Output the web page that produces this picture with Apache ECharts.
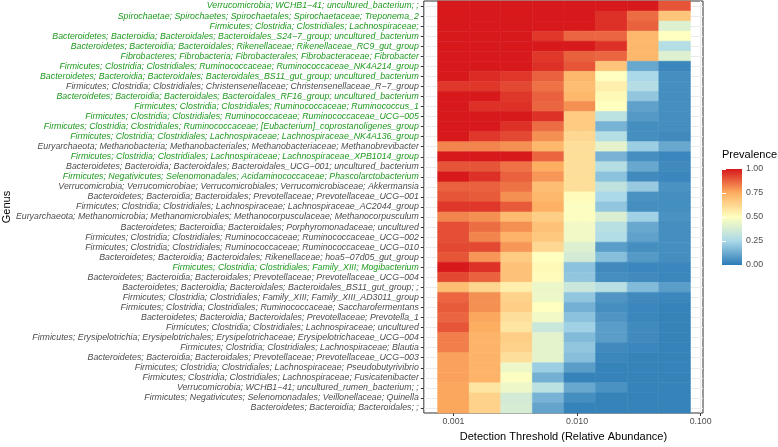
<!DOCTYPE html>
<html><head><meta charset="utf-8">
<script src="https://cdn.jsdelivr.net/npm/echarts@6/dist/echarts.min.js"></script>
<style>html,body{margin:0;padding:0;background:#fff}#c{width:778px;height:447px}</style>
</head><body><div id="c"></div>
<script>
const genera = [
"Verrucomicrobia; WCHB1−41; uncultured_bacterium; ;",
"Spirochaetae; Spirochaetes; Spirochaetales; Spirochaetaceae; Treponema_2",
"Firmicutes; Clostridia; Clostridiales; Lachnospiraceae;",
"Bacteroidetes; Bacteroidia; Bacteroidales; Bacteroidales_S24−7_group; uncultured_bacterium",
"Bacteroidetes; Bacteroidia; Bacteroidales; Rikenellaceae; Rikenellaceae_RC9_gut_group",
"Fibrobacteres; Fibrobacteria; Fibrobacterales; Fibrobacteraceae; Fibrobacter",
"Firmicutes; Clostridia; Clostridiales; Ruminococcaceae; Ruminococcaceae_NK4A214_group",
"Bacteroidetes; Bacteroidia; Bacteroidales; Bacteroidales_BS11_gut_group; uncultured_bacterium",
"Firmicutes; Clostridia; Clostridiales; Christensenellaceae; Christensenellaceae_R−7_group",
"Bacteroidetes; Bacteroidia; Bacteroidales; Bacteroidales_RF16_group; uncultured_bacterium",
"Firmicutes; Clostridia; Clostridiales; Ruminococcaceae; Ruminococcus_1",
"Firmicutes; Clostridia; Clostridiales; Ruminococcaceae; Ruminococcaceae_UCG−005",
"Firmicutes; Clostridia; Clostridiales; Ruminococcaceae; [Eubacterium]_coprostanoligenes_group",
"Firmicutes; Clostridia; Clostridiales; Lachnospiraceae; Lachnospiraceae_NK4A136_group",
"Euryarchaeota; Methanobacteria; Methanobacteriales; Methanobacteriaceae; Methanobrevibacter",
"Firmicutes; Clostridia; Clostridiales; Lachnospiraceae; Lachnospiraceae_XPB1014_group",
"Bacteroidetes; Bacteroidia; Bacteroidales; Bacteroidales_UCG−001; uncultured_bacterium",
"Firmicutes; Negativicutes; Selenomonadales; Acidaminococcaceae; Phascolarctobacterium",
"Verrucomicrobia; Verrucomicrobiae; Verrucomicrobiales; Verrucomicrobiaceae; Akkermansia",
"Bacteroidetes; Bacteroidia; Bacteroidales; Prevotellaceae; Prevotellaceae_UCG−001",
"Firmicutes; Clostridia; Clostridiales; Lachnospiraceae; Lachnospiraceae_AC2044_group",
"Euryarchaeota; Methanomicrobia; Methanomicrobiales; Methanocorpusculaceae; Methanocorpusculum",
"Bacteroidetes; Bacteroidia; Bacteroidales; Porphyromonadaceae; uncultured",
"Firmicutes; Clostridia; Clostridiales; Ruminococcaceae; Ruminococcaceae_UCG−002",
"Firmicutes; Clostridia; Clostridiales; Ruminococcaceae; Ruminococcaceae_UCG−010",
"Bacteroidetes; Bacteroidia; Bacteroidales; Rikenellaceae; hoa5−07d05_gut_group",
"Firmicutes; Clostridia; Clostridiales; Family_XIII; Mogibacterium",
"Bacteroidetes; Bacteroidia; Bacteroidales; Prevotellaceae; Prevotellaceae_UCG−004",
"Bacteroidetes; Bacteroidia; Bacteroidales; Bacteroidales_BS11_gut_group; ;",
"Firmicutes; Clostridia; Clostridiales; Family_XIII; Family_XIII_AD3011_group",
"Firmicutes; Clostridia; Clostridiales; Ruminococcaceae; Saccharofermentans",
"Bacteroidetes; Bacteroidia; Bacteroidales; Prevotellaceae; Prevotella_1",
"Firmicutes; Clostridia; Clostridiales; Lachnospiraceae; uncultured",
"Firmicutes; Erysipelotrichia; Erysipelotrichales; Erysipelotrichaceae; Erysipelotrichaceae_UCG−004",
"Firmicutes; Clostridia; Clostridiales; Lachnospiraceae; Blautia",
"Bacteroidetes; Bacteroidia; Bacteroidales; Prevotellaceae; Prevotellaceae_UCG−003",
"Firmicutes; Clostridia; Clostridiales; Lachnospiraceae; Pseudobutyrivibrio",
"Firmicutes; Clostridia; Clostridiales; Lachnospiraceae; Fusicatenibacter",
"Verrucomicrobia; WCHB1−41; uncultured_rumen_bacterium; ;",
"Firmicutes; Negativicutes; Selenomonadales; Veillonellaceae; Quinella",
"Bacteroidetes; Bacteroidia; Bacteroidales; ;"
];
// rows drawn in green
const highlightedRows = [0,1,2,3,4,5,6,7,9,10,11,12,13,15,17,26];
const thresholds = [0.00100, 0.00180, 0.00324, 0.00584, 0.01053, 0.01896, 0.03418, 0.06159];
const prevalence = [
[1,1,1,1,1,1,1,0.9],
[1,1,1,1,1,0.96,0.86,0.68],
[1,1,1,1,1,0.96,0.88,0.4],
[1,1,1,0.95,0.87,0.87,0.72,0.5],
[1,1,1,1,1,0.96,0.72,0.28],
[1,1,1,0.95,0.88,0.87,0.72,0.4],
[1,1,1,0.96,0.9,0.68,0.12,0.03],
[1,0.97,0.95,0.88,0.72,0.5,0.25,0.05],
[0.95,0.95,0.92,0.85,0.7,0.55,0.28,0.05],
[1,1,0.95,0.88,0.72,0.52,0.2,0.05],
[1,0.96,0.96,0.87,0.8,0.5,0.1,0.05],
[1,1,1,0.96,0.66,0.3,0.08,0.05],
[1,1,0.96,0.86,0.66,0.15,0.05,0.05],
[1,0.95,0.92,0.8,0.62,0.28,0.05,0.04],
[0.82,0.82,0.8,0.72,0.6,0.42,0.22,0.12],
[1,1,1,0.87,0.6,0.15,0.05,0.03],
[0.9,0.9,0.85,0.75,0.6,0.28,0.12,0.04],
[1,0.96,0.88,0.79,0.6,0.19,0.04,0.03],
[0.88,0.88,0.85,0.7,0.6,0.31,0.21,0.06],
[0.9,0.89,0.8,0.72,0.51,0.25,0.06,0.05],
[0.95,0.95,0.89,0.74,0.49,0.2,0.05,0.05],
[0.82,0.8,0.71,0.65,0.49,0.39,0.23,0.06],
[0.91,0.86,0.8,0.69,0.46,0.29,0.12,0.05],
[0.91,0.82,0.73,0.67,0.46,0.27,0.1,0.05],
[0.92,0.92,0.79,0.62,0.4,0.09,0.05,0.05],
[0.9,0.79,0.66,0.5,0.37,0.18,0.08,0.05],
[1,0.96,0.69,0.52,0.19,0.04,0.03,0.03],
[0.92,0.88,0.69,0.51,0.2,0.05,0.04,0.03],
[0.7,0.63,0.55,0.44,0.34,0.29,0.17,0.09],
[0.87,0.8,0.64,0.45,0.2,0.07,0.04,0.03],
[0.89,0.8,0.65,0.5,0.14,0.05,0.03,0.02],
[0.87,0.76,0.6,0.46,0.19,0.07,0.03,0.02],
[0.9,0.75,0.58,0.34,0.23,0.09,0.04,0.02],
[0.83,0.73,0.65,0.42,0.17,0.09,0.04,0.02],
[0.83,0.73,0.64,0.42,0.2,0.04,0.03,0.02],
[0.77,0.73,0.6,0.42,0.18,0.03,0.02,0.02],
[0.77,0.73,0.45,0.22,0.09,0.02,0.02,0.02],
[0.77,0.73,0.49,0.14,0.02,0.02,0.02,0.02],
[0.76,0.58,0.45,0.3,0.12,0.06,0.02,0.02],
[0.76,0.64,0.37,0.15,0.05,0.02,0.02,0.02],
[0.76,0.64,0.38,0.11,0.02,0.02,0.02,0.02]
];
const xTickValues = [0.001, 0.01, 0.1];
const legendTickValues = [0, 0.25, 0.5, 0.75, 1];
const palette = ['#2c7bb6', '#abd9e9', '#ffffbf', '#fdae61', '#d7191c'];

const FONT = "'Liberation Sans', Arial, Helvetica, sans-serif";
const cells = [];
prevalence.forEach((row, r) => row.forEach((v, c) => cells.push([thresholds[c], r, v])));
const halfStep = (Math.log10(thresholds[1]) - Math.log10(thresholds[0])) / 2;

const chart = echarts.init(document.getElementById('c'), null, {renderer: 'canvas'});
chart.setOption({
  animation: false,
  backgroundColor: '#fff',
  textStyle: {fontFamily: FONT},
  title: {text: 'Prevalence', left: 722, top: 149, padding: 0,
    textStyle: {fontSize: 11, fontWeight: 'normal', color: '#000', fontFamily: FONT}},
  grid: [
    {left: 423, top: 1, width: 280, height: 419, show: true, borderColor: '#333', borderWidth: 1, backgroundColor: '#fff', z: 0},
    {left: 722, top: 169, width: 20, height: 96}
  ],
  visualMap: {type: 'continuous', show: false, min: 0, max: 1, dimension: 2, seriesIndex: 0,
    inRange: {color: palette}},
  xAxis: [
    {type: 'log', logBase: 10, gridIndex: 0, min: 0.000576, max: 0.1045,
     name: 'Detection Threshold (Relative Abundance)', nameLocation: 'middle', nameGap: 18,
     nameTextStyle: {fontSize: 11, color: '#000', fontFamily: FONT},
     axisLine: {show: false},
     axisTick: {show: true, length: 3, customValues: xTickValues, lineStyle: {color: '#333'}},
     axisLabel: {customValues: xTickValues, formatter: v => Number(v).toFixed(3), fontSize: 8.8, color: '#4d4d4d', margin: 4, fontFamily: FONT},
     splitLine: {show: true, lineStyle: {color: '#ebebeb', width: 1}},
     minorSplitLine: {show: false}},
    {type: 'value', gridIndex: 1, min: 0, max: 1, show: false}
  ],
  yAxis: [
    {type: 'category', gridIndex: 0, data: genera, inverse: true,
     name: 'Genus', nameLocation: 'middle', nameGap: 408,
     nameTextStyle: {fontSize: 11, color: '#000', fontFamily: FONT},
     axisLine: {show: false},
     axisTick: {show: true, length: 3, alignWithLabel: true, lineStyle: {color: '#333'}},
     axisLabel: {fontSize: 8.8, fontStyle: 'italic', margin: 5, fontFamily: FONT, interval: 0,
       color: (v, i) => highlightedRows.indexOf(i) >= 0 ? '#1f9a1f' : '#4d4d4d'},
     splitLine: {show: true, alignWithLabel: true, lineStyle: {color: '#ebebeb'}}},
    {type: 'value', gridIndex: 1, min: 0, max: 1, interval: 0.25, position: 'right', z: 5,
     axisLine: {show: false},
     axisTick: {show: true, inside: true, length: 4, lineStyle: {color: '#fff', width: 1}},
     axisLabel: {formatter: v => v.toFixed(2), fontSize: 8.8, color: '#4d4d4d', margin: 4, fontFamily: FONT,
       customValues: legendTickValues},
     splitLine: {show: false}},
    {type: 'value', gridIndex: 1, min: 0, max: 1, interval: 0.25, position: 'left', z: 5,
     axisLine: {show: false},
     axisTick: {show: true, inside: true, length: 4, lineStyle: {color: '#fff', width: 1}},
     axisLabel: {show: false}, splitLine: {show: false}}
  ],
  series: [
    {type: 'custom', xAxisIndex: 0, yAxisIndex: 0, data: cells, encode: {x: 0, y: 1}, z: 2,
     renderItem: (params, api) => {
       const lx = Math.log10(api.value(0));
       const y = api.value(1);
       const p0 = api.coord([Math.pow(10, lx - halfStep), y]);
       const p1 = api.coord([Math.pow(10, lx + halfStep), y]);
       const h = api.size([0, 1])[1];
       const col = api.visual('color');
       return {type: 'rect', shape: {x: p0[0], y: p0[1] - h / 2, width: p1[0] - p0[0], height: h},
         style: {fill: col, stroke: col, lineWidth: 0.6}};
     }},
    {type: 'custom', xAxisIndex: 1, yAxisIndex: 1, data: [[0, 0]], z: 2, silent: true,
     renderItem: (params, api) => {
       const a = api.coord([0, 1]);
       const b = api.coord([1, 0]);
       const stops = palette.slice().reverse().map((c, i, arr) => ({offset: i / (arr.length - 1), color: c}));
       return {type: 'rect', shape: {x: a[0], y: a[1], width: b[0] - a[0], height: b[1] - a[1]},
         style: {fill: new echarts.graphic.LinearGradient(0, 0, 0, 1, stops)}};
     }}
  ]
});
</script></body></html>
